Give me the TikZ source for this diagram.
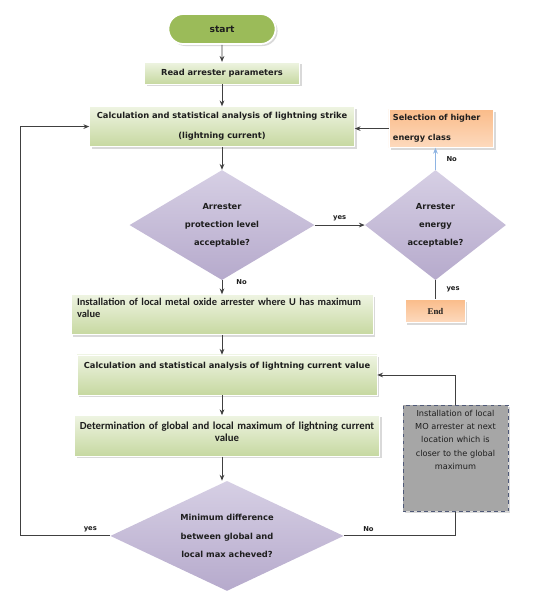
\documentclass[tikz,border=0pt]{standalone}
\usepackage{fontspec}
\setmainfont{DejaVu Sans}
\newfontfamily\calfont{Carlito}
\newfontfamily\serfont{Liberation Serif}
\usetikzlibrary{shapes.geometric, shapes.misc, arrows.meta, positioning, calc, shadows}

\definecolor{boxtop}{RGB}{238,244,226}
\definecolor{boxbot}{RGB}{198,216,160}
\definecolor{pillgreen}{RGB}{155,187,89}
\definecolor{lilatop}{RGB}{214,207,228}
\definecolor{lilabot}{RGB}{182,170,204}
\definecolor{orangetop}{RGB}{250,188,138}
\definecolor{orangebot}{RGB}{253,218,190}
\definecolor{greyfill}{RGB}{166,166,166}
\definecolor{greyline}{RGB}{80,90,120}
\definecolor{linegray}{RGB}{64,64,64}
\definecolor{bluearrow}{RGB}{142,180,227}
\definecolor{txt}{RGB}{30,30,30}

\begin{document}
\begin{tikzpicture}[
        node distance=0.6cm,
        box/.style={rectangle, draw=white, thin, top color=boxtop, bottom color=boxbot, minimum height=1.2cm, align=center, text=txt, font=\bfseries\fontsize{7.1}{17}\selectfont, drop shadow={opacity=0.3, shadow xshift=0.06cm, shadow yshift=-0.06cm}},
        pill/.style={rounded rectangle, draw=white, line width=1.5pt, fill=pillgreen, minimum width=3.45cm, minimum height=0.9cm, text=txt, font=\bfseries\fontsize{7.8}{9}\selectfont, drop shadow={opacity=0.3, shadow xshift=0.06cm, shadow yshift=-0.06cm}},
        decision/.style={diamond, top color=lilatop, bottom color=lilabot, minimum height=3.3cm, inner sep=0pt, align=center, text=txt, font=\bfseries\fontsize{7.1}{15.5}\selectfont},
        orangebox/.style={rectangle, draw=white, thin, top color=orangetop, bottom color=orangebot, text=txt, drop shadow={opacity=0.3, shadow xshift=0.06cm, shadow yshift=-0.06cm}},
        greybox/.style={rectangle, draw=greyline, dashed, fill=greyfill, minimum width=3.15cm, text width=3.05cm, inner xsep=0.05cm, align=center, inner ysep=0pt, text height=0.33cm, text depth=2.85cm, text=txt, font=\fontsize{7}{11.3}\selectfont, drop shadow={opacity=0.3, shadow xshift=0.06cm, shadow yshift=-0.06cm}},
        arrow/.style={draw=linegray, line width=0.8pt, -{Stealth[length=5pt, width=4pt]}},
        line/.style={draw=linegray, line width=0.8pt},
        lbl/.style={text=txt, font=\bfseries\fontsize{5.8}{7}\selectfont}
        ]

        \useasboundingbox (0,0) rectangle (16.29,-18.06);

        % main column
        \node[pill] (start) at (6.66,-0.87) {start};
        \node[box, minimum width=4.65cm, minimum height=0.66cm, below=0.51cm of start] (read) {Read arrester parameters};
        \node[box, minimum width=7.95cm, below=0.66cm of read] (calc1) {Calculation and statistical analysis of lightning strike\\(lightning current)};
        \node[decision, minimum width=5.55cm, aspect=1.68, below=0.69cm of calc1] (dia1) {Arrester\\protection level\\acceptable?};
        \node[box, minimum width=9.06cm, text width=8.9cm, inner xsep=0.08cm, inner ysep=0pt, text height=0.33cm, text depth=0.87cm, align=left, font=\calfont\bfseries\fontsize{8.9}{10}\selectfont, below=0.42cm of dia1] (inst) {\hspace*{0.1cm}Installation of local metal oxide arrester where U has maximum\\\hspace*{0.1cm}value};
        \node[box, minimum width=9cm, inner ysep=0pt, text height=0.42cm, text depth=0.78cm, below=0.6cm of inst, xshift=0.15cm] (calc2) {Calculation and statistical analysis of lightning current value};
        \node[box, minimum width=9.15cm, text width=8.95cm, inner xsep=0.1cm, inner ysep=0pt, text height=0.42cm, text depth=0.81cm, font=\calfont\bfseries\fontsize{9.2}{10.4}\selectfont, below=0.6cm of calc2] (det) {Determination of global and local maximum of lightning current\\value};
        \node[decision, minimum width=7cm, aspect=2.12, below=0.72cm of det] (dia3) {Minimum difference\\between global and\\local max acheved?};

        % right side
        \node[decision, minimum width=4.23cm, aspect=1.28, right=1.5cm of dia1] (dia2) {Arrester\\energy\\acceptable?};
        \node[orangebox, minimum width=3.09cm, minimum height=1.14cm, text width=2.9cm, inner xsep=0.12cm, align=left, font=\bfseries\fontsize{7}{17}\selectfont, right=1.02cm of calc1, yshift=-0.06cm] (sel) {Selection of higher\\energy class};
        \node[orangebox, minimum width=1.8cm, minimum height=0.69cm, font=\serfont\bfseries\fontsize{7.5}{8}\selectfont, below=0.57cm of dia2] (finish) {End};
        \node[greybox, right=0.69cm of det.north east, anchor=north west, yshift=0.3cm] (grey) {Installation of local\\MO arrester at next\\location which is\\closer to the global\\maximum};

        % connectors
        \draw[arrow] (start) -- (read);
        \draw[arrow] (read) -- (calc1);
        \draw[arrow] (calc1) -- (dia1);
        \draw[arrow] (dia1.east) -- node[lbl, above]{yes} (dia2.west);
        \draw[draw=bluearrow, line width=0.8pt, -{Stealth[length=5pt, width=4pt]}] (dia2.north) -- node[lbl, right, xshift=0.2cm]{No} (dia2.north |- sel.south);
        \draw[arrow] (sel.west) -- (sel.west -| calc1.east);
        \draw[line] (dia2.south) -- node[lbl, right, xshift=0.2cm]{yes} (dia2.south |- finish.north);
        \draw[arrow] (dia1.south) -- node[lbl, right, pos=0.1, xshift=0.3cm]{No} (inst.north -| dia1.south);
        \draw[arrow] (inst.south -| dia1.south) -- (calc2.north -| dia1.south);
        \draw[arrow] (calc2.south -| dia1.south) -- (det.north -| dia1.south);
        \draw[arrow] (det.south -| dia1.south) -- (dia3.north -| dia1.south);
        \draw[arrow] (dia3.west) -- node[lbl, above, pos=0.22]{yes} ++(-2.7,0) |- (calc1.west);
        \draw[line] (dia3.east) -- node[lbl, above, pos=0.22]{No} (dia3.east -| grey.south) -- (grey.south);
        \draw[arrow] (grey.north) |- (calc2.east);
    \end{tikzpicture}
\end{document}
